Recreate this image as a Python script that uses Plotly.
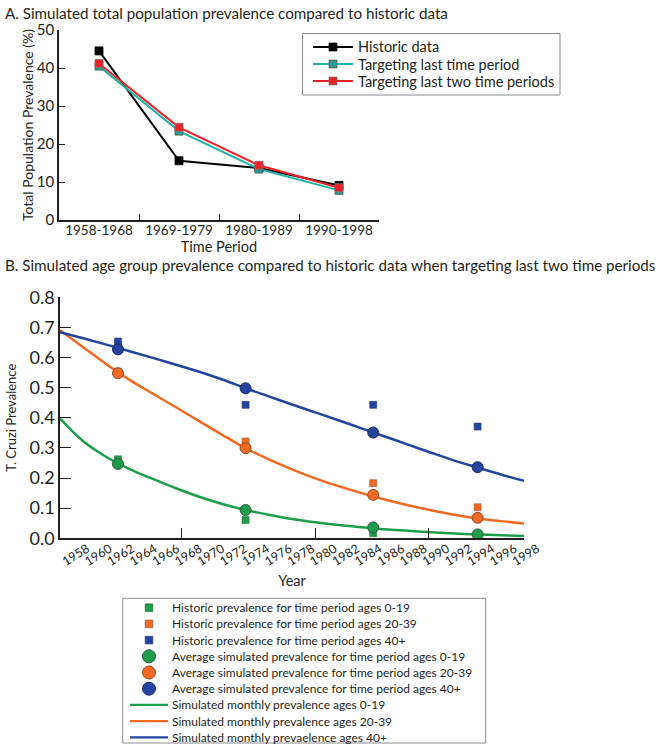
import plotly.graph_objects as go

# ---------------- Panel A data ----------------
periods = ["1958-1968", "1969-1979", "1980-1989", "1990-1998"]
historic_total = [44.5, 15.6, 13.7, 9.1]
target_last = [40.5, 23.4, 13.4, 7.8]
target_last_two = [41.2, 24.4, 14.4, 8.5]

# ---------------- Panel B data ----------------
period_mid_years = [1963, 1974, 1985, 1994]
hist_0_19 = [0.262, 0.061, 0.017, 0.008]
hist_20_39 = [0.553, 0.321, 0.183, 0.103]
hist_40p = [0.653, 0.443, 0.443, 0.371]
sim_avg_0_19 = [0.247, 0.094, 0.036, 0.013]
sim_avg_20_39 = [0.548, 0.299, 0.144, 0.068]
sim_avg_40p = [0.627, 0.498, 0.351, 0.236]

curve_years = [1958, 1960, 1962, 1964, 1966, 1968, 1970, 1972, 1974, 1976, 1978,
               1980, 1982, 1984, 1986, 1988, 1990, 1992, 1994, 1996, 1998]
monthly_0_19 = [0.398, 0.322, 0.270, 0.230, 0.197, 0.166, 0.138, 0.114, 0.094, 0.078, 0.064,
                0.053, 0.044, 0.037, 0.030, 0.025, 0.020, 0.016, 0.013, 0.010, 0.008]
monthly_20_39 = [0.691, 0.634, 0.578, 0.526, 0.480, 0.435, 0.389, 0.343, 0.299, 0.262, 0.229,
                 0.199, 0.173, 0.150, 0.129, 0.110, 0.093, 0.078, 0.066, 0.057, 0.049]
monthly_40p = [0.684, 0.664, 0.643, 0.621, 0.599, 0.576, 0.553, 0.527, 0.498, 0.471, 0.444,
               0.418, 0.392, 0.365, 0.338, 0.311, 0.284, 0.258, 0.235, 0.212, 0.191]

period_boundaries = [1968.5, 1980, 1989.75]
year_labels = list(range(1958, 1999, 2))
y_ticks_b = [0, 0.1, 0.2, 0.3, 0.4, 0.5, 0.6, 0.7, 0.8]
y_ticks_a = [0, 10, 20, 30, 40, 50]

FONT = "Lato"
TXT = "#231f20"
W, H = 664, 753

GREEN, ORANGE, BLUE = "#1c9e4a", "#f26a22", "#2444a0"
TEAL_LINE, TEAL_MK = "#1fb3a6", "#2a9a8f"
RED = "#ec2027"


def px_x(p):
    return p / W


def px_y(p):
    return 1 - p / H


fig = go.Figure()

# ---------------- Panel A traces ----------------
series_a = [
    ("Historic data", historic_total, "#000000", "#000000", "#000000"),
    ("Targeting last time period", target_last, TEAL_LINE, TEAL_MK, "#555555"),
    ("Targeting last two time periods", target_last_two, RED, RED, "#777777"),
]
for name, vals, lc, mc, mlc in series_a:
    fig.add_trace(go.Scatter(x=periods, y=vals, mode="lines+markers", name=name,
                             line=dict(color=lc, width=2),
                             marker=dict(symbol="square", size=8, color=mc, line=dict(color=mlc, width=0.8)),
                             xaxis="x", yaxis="y", showlegend=False))

# ---------------- Panel B traces ----------------
lines_b = [
    ("Simulated monthly prevalence ages 0-19", monthly_0_19, GREEN),
    ("Simulated monthly prevalence ages 20-39", monthly_20_39, ORANGE),
    ("Simulated monthly prevaelence ages 40+", monthly_40p, BLUE),
]
hist_b = [
    ("Historic prevalence for time period ages 0-19", hist_0_19, GREEN, "#3a6e4a"),
    ("Historic prevalence for time period ages 20-39", hist_20_39, ORANGE, "#9a5a3a"),
    ("Historic prevalence for time period ages 40+", hist_40p, BLUE, "#2a3a6a"),
]
avg_b = [
    ("Average simulated prevalence for time period ages 0-19", sim_avg_0_19, GREEN, "#2f5a3a"),
    ("Average simulated prevalence for time period ages 20-39", sim_avg_20_39, ORANGE, "#8a4a2a"),
    ("Average simulated prevalence for time period ages 40+", sim_avg_40p, BLUE, "#1a2a5a"),
]
for name, vals, c in lines_b:
    fig.add_trace(go.Scatter(x=curve_years, y=vals, mode="lines", name=name,
                             line=dict(color=c, width=2.5, shape="spline", smoothing=1.0),
                             xaxis="x2", yaxis="y2", showlegend=False))
for name, vals, c, oc in hist_b:
    fig.add_trace(go.Scatter(x=period_mid_years, y=vals, mode="markers", name=name,
                             marker=dict(symbol="square", size=7, color=c, line=dict(color=oc, width=0.6)),
                             xaxis="x2", yaxis="y2", showlegend=False))
for name, vals, c, oc in avg_b:
    fig.add_trace(go.Scatter(x=period_mid_years, y=vals, mode="markers", name=name,
                             marker=dict(symbol="circle", size=11, color=c, line=dict(color=oc, width=1)),
                             xaxis="x2", yaxis="y2", showlegend=False))

# carrier for the year tick-label axis (no visible marks)
fig.add_trace(go.Scatter(x=year_labels, y=[None] * len(year_labels), mode="markers",
                         xaxis="x3", yaxis="y2", showlegend=False, hoverinfo="skip"))

axis_common = dict(showgrid=False, zeroline=False, showline=True, linecolor=TXT, linewidth=1.5,
                   ticks="inside", tickcolor=TXT)

# ---------------- legends (drawn as boxes + keys + text) ----------------
shapes = []
annotations = []


def legend_box(x0, y0, x1, y1):
    shapes.append(dict(type="rect", xref="paper", yref="paper",
                       x0=px_x(x0), x1=px_x(x1), y0=px_y(y1), y1=px_y(y0),
                       line=dict(color="#8a8a8a", width=1), fillcolor="white", layer="above"))


def key_square(cx, cy, half, color, outline):
    shapes.append(dict(type="rect", xref="paper", yref="paper", xsizemode="pixel", ysizemode="pixel",
                       xanchor=px_x(cx), yanchor=px_y(cy), x0=-half, x1=half, y0=-half, y1=half,
                       fillcolor=color, line=dict(color=outline, width=0.7), layer="above"))


def key_circle(cx, cy, r, color, outline):
    shapes.append(dict(type="circle", xref="paper", yref="paper", xsizemode="pixel", ysizemode="pixel",
                       xanchor=px_x(cx), yanchor=px_y(cy), x0=-r, x1=r, y0=-r, y1=r,
                       fillcolor=color, line=dict(color=outline, width=1), layer="above"))


def key_line(x0, x1, cy, color, width):
    shapes.append(dict(type="line", xref="paper", yref="paper",
                       x0=px_x(x0), x1=px_x(x1), y0=px_y(cy), y1=px_y(cy),
                       line=dict(color=color, width=width), layer="above"))


def key_text(x, cy, text, size):
    annotations.append(dict(text=text, x=px_x(x), y=px_y(cy), xref="paper", yref="paper",
                            xanchor="left", yanchor="middle", showarrow=False,
                            font=dict(family=FONT, size=size, color=TXT)))


# legend A
legend_box(302.5, 33.5, 560, 95)
for i, (name, vals, lc, mc, mlc) in enumerate(series_a):
    cy = 47 + i * 17
    key_line(313, 353, cy, lc, 2)
    key_square(333, cy, 4, mc, mlc)
    key_text(356, cy, name, 14.5)

# legend B
legend_box(122.7, 598.3, 485.7, 743)
rows_b = ([("sq", n, c, oc) for n, _, c, oc in hist_b]
          + [("ci", n, c, oc) for n, _, c, oc in avg_b]
          + [("ln", n, c, None) for n, _, c in lines_b])
for i, (kind, name, c, oc) in enumerate(rows_b):
    cy = 607.7 + i * 16.2
    if kind == "sq":
        key_square(149, cy, 3.8, c, oc)
    elif kind == "ci":
        key_circle(149, cy, 6.5, c, oc)
    else:
        key_line(130, 168, cy, c, 2.2)
    key_text(170, cy, name, 12.0)

# panel titles
annotations.append(dict(text="A. Simulated total population prevalence compared to historic data",
                        x=px_x(3), y=px_y(13), xref="paper", yref="paper", xanchor="left", yanchor="middle",
                        showarrow=False, font=dict(family=FONT, size=15.2, color=TXT)))
annotations.append(dict(text="B. Simulated age group prevalence compared to historic data when targeting last two time periods",
                        x=px_x(3), y=px_y(265), xref="paper", yref="paper", xanchor="left", yanchor="middle",
                        showarrow=False, font=dict(family=FONT, size=15.2, color=TXT)))

fig.update_layout(
    width=W, height=H,
    margin=dict(l=0, r=0, t=0, b=0, autoexpand=False),
    paper_bgcolor="white", plot_bgcolor="rgba(0,0,0,0)",
    font=dict(family=FONT, color=TXT),
    showlegend=False,
    xaxis=dict(domain=[px_x(59), px_x(379)], anchor="y", type="category",
               categoryorder="array", categoryarray=periods, range=[-0.5, 3.5],
               tickson="boundaries", ticklen=6, tickwidth=1.2, automargin=False,
               ticklabelstandoff=-3,
               tickfont=dict(family=FONT, color=TXT, size=13.5),
               title=dict(text="Time Period", font=dict(size=14.5), standoff=0),
               **axis_common),
    yaxis=dict(domain=[px_y(220), px_y(30)], anchor="x", range=[0, 50], tickvals=y_ticks_a,
               ticklen=6, tickwidth=1.2, automargin=False,
               tickfont=dict(family=FONT, color=TXT, size=15),
               title=dict(text="Total Population Prevalence (%)", font=dict(size=14), standoff=0),
               **axis_common),
    xaxis2=dict(domain=[px_x(60), px_x(524)], anchor="y2", range=[1958, 1998],
                tickvals=period_boundaries, showticklabels=False, ticklen=11, tickwidth=1.2,
                automargin=False,
                title=dict(text="Year", font=dict(size=14.5), standoff=37),
                **axis_common),
    xaxis3=dict(domain=[px_x(87), px_x(537)], anchor="y2", range=[1958, 1998],
                tickvals=year_labels, ticktext=[str(v) for v in year_labels], tickangle=-32,
                showgrid=False, zeroline=False, showline=False, ticks="", automargin=False,
                ticklabelstandoff=0,
                tickfont=dict(family=FONT, color=TXT, size=12.5)),
    yaxis2=dict(domain=[px_y(538.3), px_y(297.3)], anchor="x2", range=[0, 0.8], tickvals=y_ticks_b,
                tickformat=".1f", ticklen=11, tickwidth=1.2, automargin=False,
                tickfont=dict(family=FONT, color=TXT, size=18),
                title=dict(text="T. Cruzi Prevalence", font=dict(size=13), standoff=10),
                **axis_common),
    shapes=shapes,
    annotations=annotations,
)

fig.write_html("out.html", config={"displayModeBar": False},
               post_script="document.body.style.margin='0px';")
